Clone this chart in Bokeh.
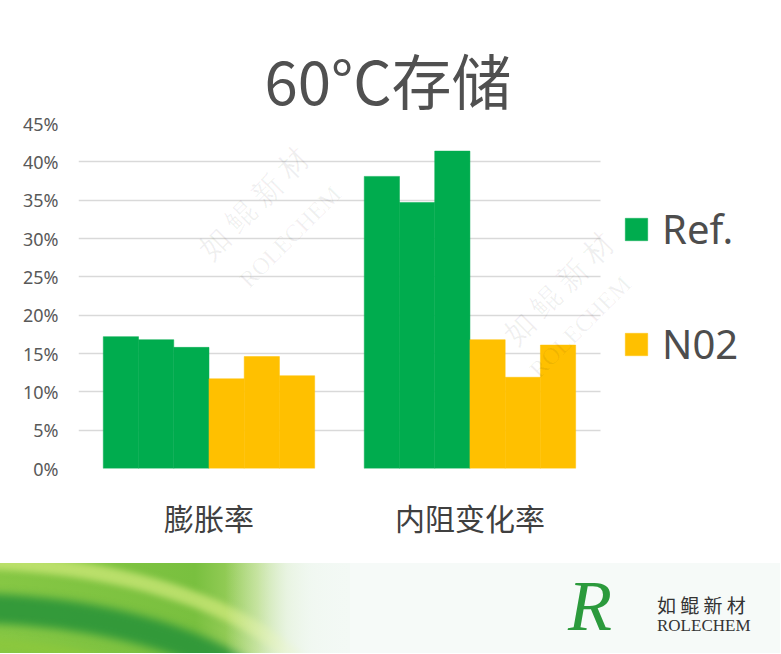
from bokeh.plotting import figure
from bokeh.models import (ColumnDataSource, Legend, LegendItem, Label, Range1d,
                          PrintfTickFormatter, FixedTicker, Div)
from bokeh.layouts import column
from bokeh.embed import file_html
from bokeh.resources import INLINE
import math

# ---------------- data ----------------
categories = ["膨胀率", "内阻变化率"]
ref_1 = [17.2, 38.1]
ref_2 = [16.8, 34.7]
ref_3 = [15.8, 41.4]
n02_1 = [11.7, 16.8]
n02_2 = [14.6, 11.9]
n02_3 = [12.1, 16.1]
y_ticks = [0, 5, 10, 15, 20, 25, 30, 35, 40, 45]
title_text = "60°C存储"
series_labels = ["Ref.", "N02"]
logo_cn = "如 鲲 新 材"
logo_en = "ROLECHEM"

GREEN = "#00AC4E"
YELLOW = "#FFC000"
TXT = "#595959"

n_cat = len(categories)
centers = [i + 0.5 for i in range(n_cat)]
w = 0.135
series = [("r1", ref_1, GREEN), ("r2", ref_2, GREEN), ("r3", ref_3, GREEN),
          ("n1", n02_1, YELLOW), ("n2", n02_2, YELLOW), ("n3", n02_3, YELLOW)]

# frame spans to the right edge so the legend can live inside it
p = figure(width=780, height=563, x_range=Range1d(0, 2.69), y_range=Range1d(0, 45),
           output_backend="svg", toolbar_location=None,
           min_border_left=78, min_border_right=0, min_border_top=123,
           min_border_bottom=95)
p.outline_line_color = None
p.background_fill_color = "white"

renderers = {}
for i, (name, vals, color) in enumerate(series):
    off = (i - 2.5) * w
    src = ColumnDataSource(dict(x=[c + off for c in centers], top=vals))
    r = p.vbar(x="x", top="top", width=w, source=src,
               fill_color=color, line_color=color, line_width=0.5)
    renderers[name] = r

# axes
p.yaxis.ticker = FixedTicker(ticks=y_ticks)
p.yaxis.formatter = PrintfTickFormatter(format="%d%%")
p.yaxis.axis_line_color = None
p.yaxis.major_tick_line_color = None
p.yaxis.minor_tick_line_color = None
p.yaxis.major_tick_out = 0
p.yaxis.minor_tick_out = 0
p.yaxis.major_label_standoff = 20
p.yaxis.major_label_text_font = "Noto Sans"
p.yaxis.major_label_text_font_size = "18px"
p.yaxis.major_label_text_color = TXT

p.xaxis.ticker = FixedTicker(ticks=centers)
p.xaxis.major_label_overrides = {c: lab for c, lab in zip(centers, categories)}
p.xaxis.axis_line_color = None
p.xaxis.major_tick_line_color = None
p.xaxis.minor_tick_line_color = None
p.xaxis.major_tick_out = 0
p.xaxis.minor_tick_out = 0
p.xaxis.major_label_standoff = 26
p.xaxis.major_label_text_font = "Noto Sans CJK SC"
p.xaxis.major_label_text_font_size = "30px"
p.xaxis.major_label_text_color = "#404040"

p.xgrid.grid_line_color = None
p.ygrid.ticker = FixedTicker(ticks=y_ticks)
p.ygrid.cross_bounds = (0, n_cat)
p.ygrid.grid_line_color = "#d9d9d9"
p.ygrid.grid_line_width = 1.5

# watermark text
for (x, y, t, fs) in [(125, 215, logo_cn, "30px"), (165, 185, logo_en, "24px"),
                      (430, 130, logo_cn, "30px"), (455, 95, logo_en, "24px")]:
    p.add_layout(Label(x=x, y=y, x_units="screen", y_units="screen", text=t,
                       angle=math.radians(45), text_font="Liberation Serif",
                       text_font_size=fs, text_color="#000000", text_alpha=0.06,
                       text_align="left", text_baseline="middle"))

# title
p.title.text = title_text
p.title.align = "left"
p.title.offset = 186
p.title.standoff = 4
p.title.text_font = "Noto Sans CJK SC"
p.title.text_font_size = "60px"
p.title.text_font_style = "normal"
p.title.text_color = "#505050"

legend = Legend(items=[LegendItem(label=series_labels[0], renderers=[renderers["r1"]]),
                       LegendItem(label=series_labels[1], renderers=[renderers["n1"]])],
                location=(544, 97), orientation="vertical",
                glyph_width=28, glyph_height=28, label_height=40, spacing=60,
                label_standoff=12, padding=0, margin=0,
                label_text_font="Noto Sans", label_text_font_size="40px",
                label_text_color="#4d4d4d", border_line_alpha=0,
                background_fill_alpha=0)
p.add_layout(legend, "center")

# ---------------- banner (decorative footer) ----------------
banner_html = f"""
<div style="position:relative;width:780px;height:90px;overflow:hidden;
 background:linear-gradient(to right,#86c744 0%,#79c03f 25%,#a9d56a 33%,#e3f1dc 40%,#f3f9f5 48%,#f6faf8 80%,#fbfdfc 100%);">
  <div style="position:absolute;left:-420px;top:-10px;width:760px;height:360px;border-radius:50%;
       border:16px solid rgba(205,232,120,0.75);filter:blur(3px);"></div>
  <div style="position:absolute;left:-400px;top:30px;width:720px;height:330px;border-radius:50%;
       border:30px solid rgba(38,146,56,0.85);filter:blur(4px);"></div>
  <div style="position:absolute;left:-380px;top:74px;width:660px;height:300px;border-radius:50%;
       border:12px solid rgba(140,200,60,0.8);filter:blur(3px);"></div>
  <div style="position:absolute;left:225px;top:0;width:125px;height:90px;
       background:linear-gradient(to right,rgba(243,249,245,0) 0%,rgba(243,249,245,0.75) 50%,rgba(243,249,245,1) 100%);"></div>
  <div style="position:absolute;left:350px;top:0;width:430px;height:90px;background:#f6faf8;"></div>
  <div style="position:absolute;left:564px;top:4px;padding:0 14px 0 4px;font-family:'Liberation Serif';font-style:italic;
       font-size:72px;line-height:1.1;color:#2b9a3c;">R</div>
  <div style="position:absolute;left:657px;top:31px;font-family:'Noto Sans CJK SC';font-size:19px;
       line-height:1.2;color:#333;">{logo_cn}</div>
  <div style="position:absolute;left:657px;top:53px;font-family:'Liberation Serif';font-size:17px;
       line-height:1.2;color:#333;">{logo_en}</div>
</div>
"""
banner = Div(text=banner_html, width=780, height=90, styles={"margin": "0", "padding": "0"})

layout = column(p, banner, spacing=0)
open("out.html", "w").write(file_html(layout, INLINE))
